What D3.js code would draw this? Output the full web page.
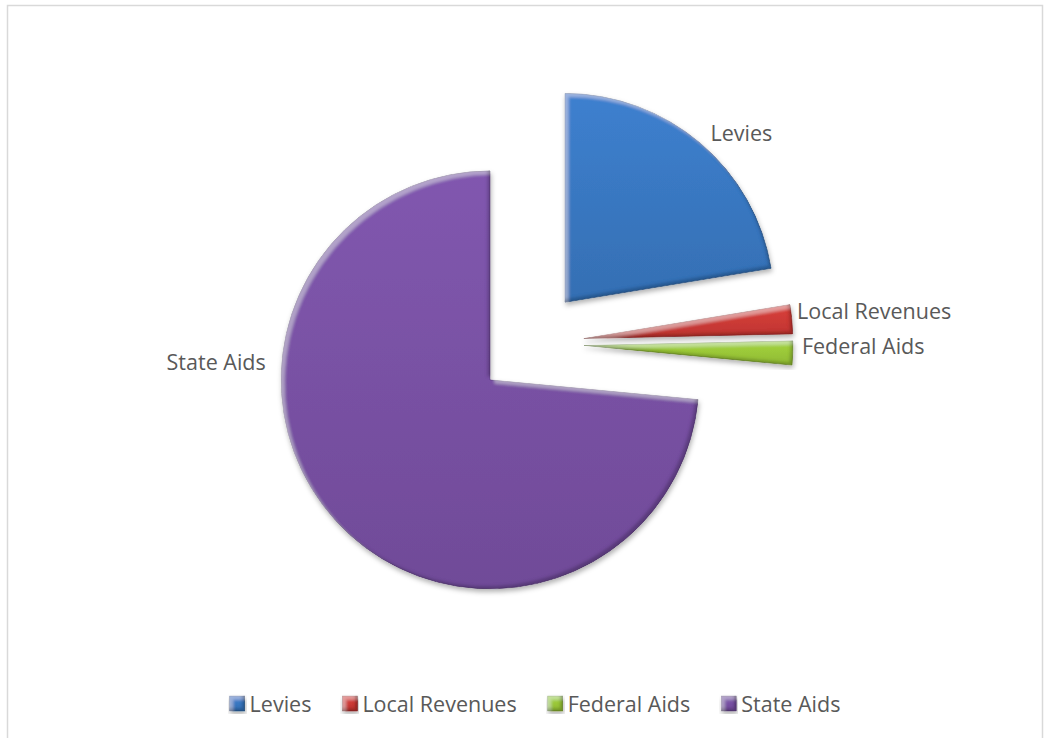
<!DOCTYPE html>
<html>
<head>
<meta charset="utf-8">
<script src="https://d3js.org/d3.v7.min.js"></script>
<style>
  body { margin: 0; background: white; }
  text { font-family: "Open Sans", sans-serif; fill: #595959; }
</style>
</head>
<body>
<div id="chart"></div>
<script>
// data (percent of revenue)
var categories = ["Levies", "Local Revenues", "Federal Aids", "State Aids"];
var values = [22.4, 2.25, 1.85, 73.5];
var colors = ["#3a79c4", "#cf3b37", "#9cca3a", "#7a52a6"];

var W = 1045, H = 738;
var cx = 530, cy = 343.5, radius = 209, explode = 54;

var svg = d3.select("#chart").append("svg")
    .attr("width", W).attr("height", H);

// chart frame
svg.append("rect")
    .attr("x", 7.5).attr("y", 5.5)
    .attr("width", 1035).attr("height", 745)
    .attr("fill", "white").attr("stroke", "#d9d9d9").attr("stroke-width", 1.5);

var defs = svg.append("defs");

// bevel look: light band on the upper-left edge, dark band on the lower-right
var f = defs.append("filter").attr("id", "bevel")
    .attr("x", "-10%").attr("y", "-10%").attr("width", "120%").attr("height", "130%");
f.append("feGaussianBlur").attr("in", "SourceAlpha").attr("stdDeviation", 1.8).attr("result", "a");
f.append("feOffset").attr("in", "a").attr("dx", 3.5).attr("dy", 3.5).attr("result", "aDown");
f.append("feOffset").attr("in", "a").attr("dx", -3.5).attr("dy", -3.5).attr("result", "aUp");
f.append("feComposite").attr("in", "SourceAlpha").attr("in2", "aDown")
    .attr("operator", "arithmetic").attr("k2", 1).attr("k3", -1).attr("result", "hlBand");
f.append("feComposite").attr("in", "SourceAlpha").attr("in2", "aUp")
    .attr("operator", "arithmetic").attr("k2", 1).attr("k3", -1).attr("result", "shBand");
f.append("feFlood").attr("flood-color", "#ffffff").attr("flood-opacity", 0.3);
f.append("feComposite").attr("in2", "hlBand").attr("operator", "in").attr("result", "hl");
f.append("feFlood").attr("flood-color", "#000000").attr("flood-opacity", 0.4);
f.append("feComposite").attr("in2", "shBand").attr("operator", "in").attr("result", "sh");
var m = f.append("feMerge").attr("result", "lit");
m.append("feMergeNode").attr("in", "SourceGraphic");
m.append("feMergeNode").attr("in", "hl");
m.append("feMergeNode").attr("in", "sh");
f.append("feComposite").attr("in", "lit").attr("in2", "SourceAlpha").attr("operator", "in").attr("result", "clip");
f.append("feDropShadow").attr("in", "clip").attr("dx", 1).attr("dy", 3)
    .attr("stdDeviation", 2.5).attr("flood-color", "#000").attr("flood-opacity", 0.3);

// gentle top-to-bottom sheen for each colour
colors.forEach(function (c, i) {
    var g = defs.append("linearGradient").attr("id", "grad" + i)
        .attr("x1", 0).attr("y1", 0).attr("x2", 0).attr("y2", 1);
    g.append("stop").attr("offset", "0%").attr("stop-color", d3.color(c).brighter(0.15));
    g.append("stop").attr("offset", "100%").attr("stop-color", d3.color(c).darker(0.25));
});

var pie = d3.pie().sort(null).value(function (d) { return d; });
var arcs = pie(values);
var arc = d3.arc().innerRadius(0).outerRadius(radius);

// every slice is pulled out along its middle angle
function sliceCenter(d) {
    var a = (d.startAngle + d.endAngle) / 2;
    return [cx + explode * Math.sin(a), cy - explode * Math.cos(a)];
}

var slices = svg.append("g").selectAll("g")
    .data(arcs).enter().append("g")
    .attr("transform", function (d) { var c = sliceCenter(d); return "translate(" + c[0] + "," + c[1] + ")"; });

slices.append("path")
    .attr("d", arc)
    .attr("fill", function (d, i) { return "url(#grad" + i + ")"; })
    .attr("stroke", function (d, i) { return d3.color(colors[i]).darker(0.8); })
    .attr("stroke-width", 0.8)
    .attr("stroke-linejoin", "round")
    .attr("filter", "url(#bevel)");

// data labels (outside end / best fit), angle in degrees and distance from the slice tip
var labelPlace = {
    "Levies":         { a: 46.3, r: 244, anchor: "middle" },
    "Local Revenues": { a: 82.7, r: 215, anchor: "start" },
    "Federal Aids":   { a: 90.3, r: 218, anchor: "start" },
    "State Aids":     { a: 274.4, r: 225, anchor: "end" }
};

slices.append("text")
    .attr("text-anchor", function (d, i) { return labelPlace[categories[i]].anchor; })
    .attr("x", function (d, i) { var p = labelPlace[categories[i]]; return p.r * Math.sin(p.a * Math.PI / 180); })
    .attr("y", function (d, i) { var p = labelPlace[categories[i]]; return -p.r * Math.cos(p.a * Math.PI / 180); })
    .attr("dy", "0.36em")
    .style("font-size", "21.5px")
    .text(function (d, i) { return categories[i]; });

// legend along the bottom
var legend = svg.append("g");
var lx = 0;
categories.forEach(function (name, i) {
    var item = legend.append("g").attr("transform", "translate(" + lx + ",0)");
    item.append("rect")
        .attr("x", 0).attr("y", -15.5).attr("width", 15).attr("height", 15)
        .attr("fill", "url(#grad" + i + ")")
        .attr("stroke", d3.color(colors[i]).darker(0.8)).attr("stroke-width", 0.8)
        .attr("filter", "url(#bevel)");
    var t = item.append("text")
        .attr("x", 20).attr("y", 0)
        .style("font-size", "21.5px")
        .text(name);
    lx += 20 + t.node().getComputedTextLength() + 31;
});
var legendWidth = lx - 31;
legend.attr("transform", "translate(" + (535 - legendWidth / 2) + ",711.5)");
</script>
</body>
</html>
